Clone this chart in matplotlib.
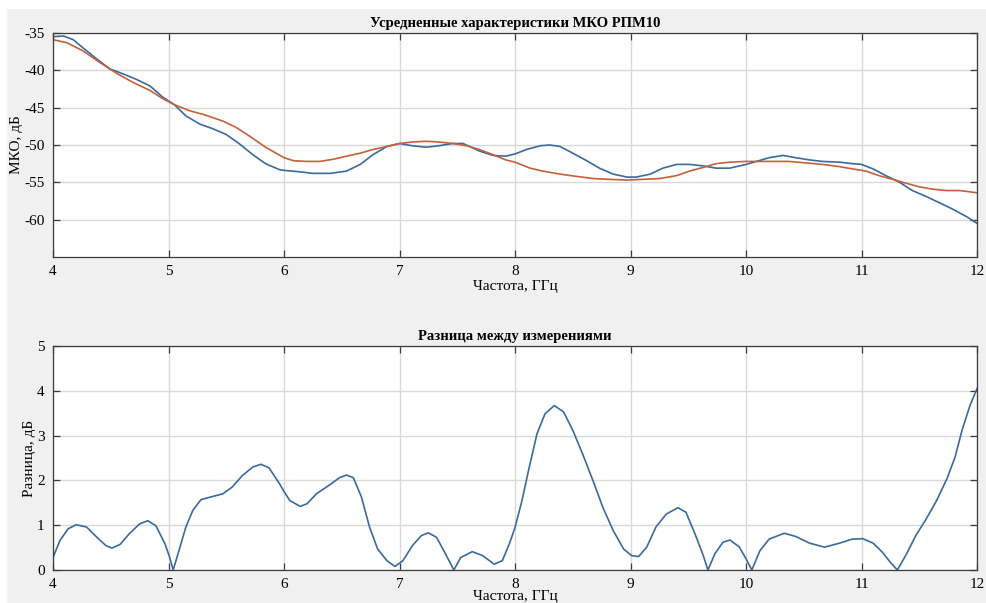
import numpy as np
import matplotlib.pyplot as plt
from matplotlib.patches import Rectangle

# Усредненные характеристики (частота, ГГц / МКО, дБ)
f_blue = [4.0, 4.09, 4.175, 4.26, 4.38, 4.49, 4.61, 4.72, 4.84, 4.95, 5.05, 5.15, 5.27, 5.38,
          5.50, 5.61, 5.73, 5.84, 5.96, 6.0, 6.14, 6.25, 6.40, 6.54, 6.66, 6.77, 6.89, 7.0,
          7.11, 7.23, 7.34, 7.46, 7.55, 7.69, 7.81, 7.92, 8.0, 8.1, 8.22, 8.3, 8.39, 8.5,
          8.62, 8.73, 8.85, 8.97, 9.05, 9.17, 9.28, 9.4, 9.51, 9.63, 9.74, 9.86, 10.0, 10.09,
          10.2, 10.32, 10.43, 10.55, 10.66, 10.81, 10.92, 11.0, 11.1, 11.21, 11.33, 11.44,
          11.56, 11.67, 11.79, 11.91, 12.0]
mko_blue = [-35.5, -35.4, -35.9, -37.0, -38.5, -39.8, -40.5, -41.2, -42.1, -43.6, -44.6, -46.1,
            -47.2, -47.8, -48.6, -49.8, -51.3, -52.5, -53.3, -53.4, -53.6, -53.8, -53.8, -53.5,
            -52.6, -51.3, -50.2, -49.8, -50.1, -50.3, -50.1, -49.8, -49.8, -50.8, -51.4, -51.5,
            -51.2, -50.6, -50.1, -50.0, -50.2, -51.1, -52.1, -53.1, -53.9, -54.3, -54.3, -53.9,
            -53.1, -52.6, -52.6, -52.8, -53.1, -53.1, -52.6, -52.2, -51.7, -51.4, -51.7, -52.0,
            -52.2, -52.3, -52.5, -52.6, -53.2, -54.1, -55.0, -56.1, -56.9, -57.7, -58.6, -59.6,
            -60.5]

f_red = [4.0, 4.12, 4.26, 4.41, 4.55, 4.69, 4.84, 4.95, 5.05, 5.18, 5.32, 5.47, 5.58, 5.70,
         5.84, 6.0, 6.08, 6.19, 6.31, 6.43, 6.54, 6.66, 6.77, 6.89, 7.0, 7.11, 7.23, 7.34,
         7.46, 7.58, 7.69, 7.81, 7.92, 8.0, 8.13, 8.24, 8.39, 8.53, 8.68, 8.82, 8.97, 9.11,
         9.25, 9.4, 9.51, 9.63, 9.74, 9.86, 10.0, 10.12, 10.23, 10.37, 10.52, 10.66, 10.81,
         10.92, 11.04, 11.15, 11.27, 11.38, 11.5, 11.61, 11.73, 11.85, 12.0]
mko_red = [-35.9, -36.3, -37.4, -39.0, -40.4, -41.6, -42.7, -43.8, -44.6, -45.4, -46.0, -46.8,
           -47.6, -48.8, -50.3, -51.7, -52.1, -52.2, -52.2, -51.9, -51.5, -51.1, -50.6, -50.2,
           -49.8, -49.6, -49.5, -49.6, -49.8, -50.1, -50.6, -51.3, -52.0, -52.3, -53.1, -53.5,
           -53.9, -54.2, -54.5, -54.6, -54.7, -54.6, -54.5, -54.1, -53.5, -53.0, -52.5, -52.3,
           -52.2, -52.2, -52.2, -52.2, -52.4, -52.6, -52.9, -53.2, -53.5, -54.1, -54.6, -55.1,
           -55.6, -55.9, -56.1, -56.1, -56.4]

# Разница между измерениями
f_diff = [4.0, 4.06, 4.13, 4.2, 4.29, 4.38, 4.46, 4.51, 4.58, 4.66, 4.75, 4.82, 4.89, 4.97,
          5.01, 5.04, 5.09, 5.15, 5.21, 5.28, 5.38, 5.47, 5.55, 5.64, 5.73, 5.80, 5.87, 5.96,
          6.0, 6.05, 6.14, 6.2, 6.28, 6.4, 6.48, 6.54, 6.6, 6.67, 6.74, 6.81, 6.89, 6.96,
          7.03, 7.11, 7.19, 7.25, 7.32, 7.39, 7.47, 7.53, 7.63, 7.72, 7.82, 7.89, 7.95, 8.0,
          8.06, 8.12, 8.19, 8.26, 8.34, 8.42, 8.5, 8.59, 8.68, 8.76, 8.85, 8.94, 9.01, 9.07,
          9.14, 9.22, 9.31, 9.41, 9.48, 9.57, 9.63, 9.67, 9.73, 9.8, 9.86, 9.94, 10.0, 10.05,
          10.12, 10.2, 10.33, 10.43, 10.55, 10.68, 10.81, 10.92, 11.01, 11.1, 11.18, 11.25,
          11.31, 11.39, 11.47, 11.56, 11.65, 11.74, 11.81, 11.87, 11.94, 12.0]
diff = [0.28, 0.66, 0.92, 1.01, 0.96, 0.73, 0.54, 0.49, 0.57, 0.81, 1.03, 1.10, 0.99, 0.58,
        0.28, 0.0, 0.43, 0.96, 1.33, 1.57, 1.64, 1.70, 1.85, 2.11, 2.30, 2.36, 2.28, 1.93,
        1.75, 1.55, 1.42, 1.48, 1.70, 1.91, 2.06, 2.12, 2.06, 1.63, 0.96, 0.47, 0.21, 0.08,
        0.21, 0.54, 0.77, 0.83, 0.73, 0.40, 0.0, 0.28, 0.41, 0.32, 0.13, 0.21, 0.58, 0.95,
        1.55, 2.26, 3.04, 3.49, 3.67, 3.53, 3.12, 2.56, 1.96, 1.40, 0.88, 0.47, 0.32, 0.30,
        0.51, 0.96, 1.25, 1.39, 1.29, 0.73, 0.32, 0.0, 0.36, 0.62, 0.67, 0.52, 0.25, 0.0,
        0.43, 0.69, 0.82, 0.75, 0.60, 0.51, 0.60, 0.69, 0.70, 0.60, 0.40, 0.17, 0.0, 0.36,
        0.77, 1.14, 1.55, 2.04, 2.52, 3.12, 3.68, 4.05]

x_ticks = [4, 5, 6, 7, 8, 9, 10, 11, 12]
y_ticks_top = [-60, -55, -50, -45, -40, -35]
y_ticks_bot = [0, 1, 2, 3, 4, 5]

plt.rcParams['font.family'] = ['Liberation Serif', 'DejaVu Serif']
plt.rcParams['font.size'] = 10
plt.rcParams['axes.unicode_minus'] = False

blue = '#3a6a9e'
red = '#c4603a'

fig = plt.figure(figsize=(9.86, 6.03), dpi=100, facecolor='#f0f0f0')
fig.patches.append(Rectangle((0, 0), 0.006, 1, transform=fig.transFigure, color='white', zorder=0))
fig.patches.append(Rectangle((0, 0.987), 1, 0.013, transform=fig.transFigure, color='white', zorder=0))

ax1 = fig.add_axes([0.0538, 0.5738, 0.9371, 0.3715])
ax2 = fig.add_axes([0.0538, 0.0547, 0.9371, 0.3715])


def style(ax):
    ax.set_facecolor('white')
    ax.grid(True, color='#d9d9d9', linewidth=1.0)
    ax.set_axisbelow(True)
    for s in ax.spines.values():
        s.set_color('#3c3c3c')
        s.set_linewidth(0.9)
    ax.tick_params(direction='in', top=True, right=True, length=5, width=0.9,
                   color='#3c3c3c', labelsize=11, pad=6)
    ax.set_xlim(4, 12)
    ax.set_xticks(x_ticks)


ax1.plot(f_blue, mko_blue, color=blue, lw=1.2)
ax1.plot(f_red, mko_red, color=red, lw=1.2)
style(ax1)
ax1.set_ylim(-65, -35)
ax1.set_yticks(y_ticks_top)
ax1.set_title('Усредненные характеристики МКО РПМ10', fontweight='bold', fontsize=10.5, pad=4)
ax1.set_xlabel('Частота, ГГц', fontsize=11, labelpad=1)
ax1.set_ylabel('МКО, дБ', fontsize=11, labelpad=1)

ax2.plot(f_diff, diff, color=blue, lw=1.2)
style(ax2)
ax2.set_ylim(0, 5)
ax2.set_yticks(y_ticks_bot)
ax2.set_title('Разница между измерениями', fontweight='bold', fontsize=10.5, pad=4)
ax2.set_xlabel('Частота, ГГц', fontsize=11, labelpad=-1)
ax2.set_ylabel('Разница, дБ', fontsize=11, labelpad=1)

fig.savefig('out.png', dpi=100, facecolor=fig.get_facecolor())
